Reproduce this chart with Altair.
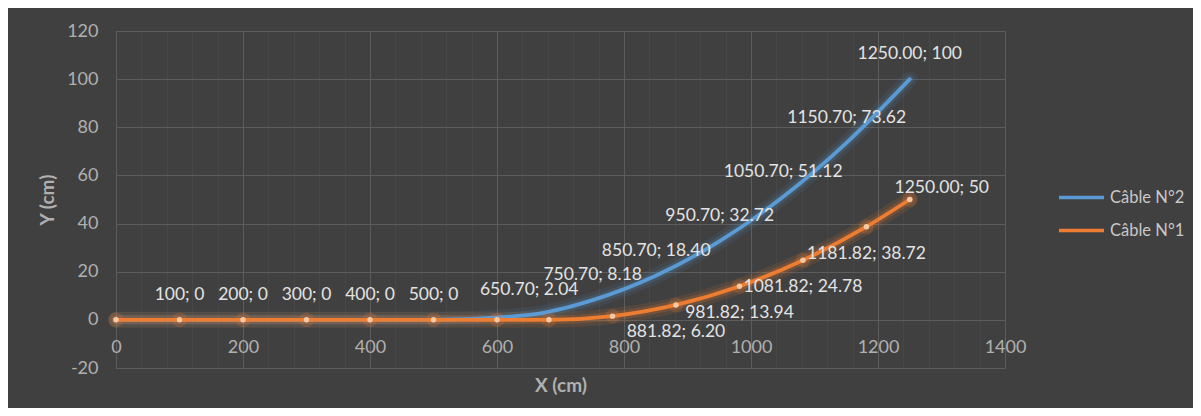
import altair as alt
import pandas as pd

# ---- data ----
blue_name = "Câble N°2"
blue_x = [0, 100, 200, 300, 400, 500, 650.70, 750.70, 850.70, 950.70, 1050.70, 1150.70, 1250.00]
blue_y = [0, 0, 0, 0, 0, 0, 2.04, 8.18, 18.40, 32.72, 51.12, 73.62, 100]
blue_labels = ["", "100; 0", "200; 0", "300; 0", "400; 0", "500; 0", "650.70; 2.04", "750.70; 8.18",
               "850.70; 18.40", "950.70; 32.72", "1050.70; 51.12", "1150.70; 73.62", "1250.00; 100"]
blue_label_pos = ["above"] * 13

orange_name = "Câble N°1"
orange_x = [0, 100, 200, 300, 400, 500, 600, 681.82, 781.82, 881.82, 981.82, 1081.82, 1181.82, 1250.00]
orange_y = [0, 0, 0, 0, 0, 0, 0, 0, 1.55, 6.20, 13.94, 24.78, 38.72, 50]
orange_labels = ["", "", "", "", "", "", "", "", "", "881.82; 6.20", "981.82; 13.94",
                 "1081.82; 24.78", "1181.82; 38.72", "1250.00; 50"]
orange_label_pos = ["below"] * 13 + ["aboveright"]

series_order = [blue_name, orange_name]
series_colors = ["#5b9bd5", "#ed7d31"]

x_ticks = list(range(0, 1401, 40))
y_ticks = list(range(-20, 121, 20))

# ---- tables ----
df_blue = pd.DataFrame({"x": blue_x, "y": blue_y, "series": blue_name,
                        "label": blue_labels, "pos": blue_label_pos})
df_orange = pd.DataFrame({"x": orange_x, "y": orange_y, "series": orange_name,
                          "label": orange_labels, "pos": orange_label_pos})
df_all = pd.concat([df_blue, df_orange], ignore_index=True)
df_lab = df_all[df_all["label"] != ""]

FONT = "Lato"
TICK_COL = "#b0b0b0"
LAB_COL = "#e3e3e3"

x_enc = alt.X("x:Q", scale=alt.Scale(domain=[0, 1400], nice=False, zero=False),
              axis=alt.Axis(values=x_ticks,
                            labelExpr="datum.value % 200 == 0 ? '' + datum.value : ''",
                            grid=True,
                            gridColor={"condition": {"test": "datum.value % 200 == 0", "value": "#5c5c5c"},
                                       "value": "#474747"},
                            ticks=False, domain=False, labelFlush=False, labelOverlap=False,
                            labelPadding=-21, labelBaseline="middle", labelFontSize=18,
                            labelColor=TICK_COL, labelFont=FONT,
                            title="X (cm)", titleFontSize=19, titleFontWeight="bold",
                            titleColor=TICK_COL, titleFont=FONT, titleY=17, titleX=444.5,
                            titleBaseline="middle", titleAlign="center"))
y_enc = alt.Y("y:Q", scale=alt.Scale(domain=[-20, 120], nice=False, zero=False),
              axis=alt.Axis(values=y_ticks, grid=True, gridColor="#5c5c5c",
                            labelExpr="'' + datum.value",
                            ticks=False, domain=False, labelFlush=False, labelOverlap=False,
                            labelPadding=18, labelFontSize=18, labelColor=TICK_COL, labelFont=FONT,
                            title="Y (cm)", titleFontSize=19, titleFontWeight="bold",
                            titleColor=TICK_COL, titleFont=FONT, titleX=-69, titleY=168.5,
                            titleAngle=270, titleBaseline="middle", titleAlign="center"))


def glow(df, color, width, opacity):
    return alt.Chart(df).mark_line(interpolate="monotone", color=color, strokeWidth=width,
                                   opacity=opacity, strokeCap="round").encode(x=x_enc, y=y_enc)


blue_glow1 = glow(df_blue, series_colors[0], 16, 0.09)
blue_glow2 = glow(df_blue, series_colors[0], 9, 0.16)
orange_glow1 = glow(df_orange, series_colors[1], 16, 0.11)
orange_glow2 = glow(df_orange, series_colors[1], 9, 0.2)

lines = alt.Chart(df_all).mark_line(interpolate="monotone", strokeWidth=3.8, strokeCap="round").encode(
    x=x_enc, y=y_enc,
    color=alt.Color("series:N",
                    scale=alt.Scale(domain=series_order, range=series_colors),
                    legend=alt.Legend(title=None, orient="none", legendX=941, legendY=142,
                                      symbolType="stroke", symbolSize=2025, symbolStrokeWidth=3.5,
                                      labelFontSize=16.5, labelColor="#c8c8c8", labelFont=FONT,
                                      labelOffset=4, rowPadding=-8)),
    detail="series:N",
)

pt_glow = alt.Chart(df_orange).mark_circle(color=series_colors[1], size=220, opacity=0.2).encode(x=x_enc, y=y_enc)
points = alt.Chart(df_orange).mark_circle(color="#f8c9a6", size=30, opacity=1).encode(x=x_enc, y=y_enc)

def labels(pos, dx, dy, align="center"):
    return alt.Chart(df_lab).transform_filter(alt.datum.pos == pos).mark_text(
        font=FONT, fontSize=17.5, color=LAB_COL, dx=dx, dy=dy, align=align, baseline="middle"
    ).encode(x=x_enc, y=y_enc, text="label:N")

lab_above = labels("above", 0, -25)
lab_below = labels("below", 0, 27)
lab_ar = labels("aboveright", 32, -12)

chart = alt.layer(blue_glow1, blue_glow2, orange_glow1, orange_glow2, lines, pt_glow, points,
                  lab_above, lab_below, lab_ar).properties(
    width=889, height=337,
    autosize=alt.AutoSizeParams(type="none"),
    padding={"left": 108, "top": 23, "right": 188, "bottom": 40},
).configure(background="#404040").configure_view(stroke=None)

chart.save("out.html", embed_options={"renderer": "svg", "actions": False})
